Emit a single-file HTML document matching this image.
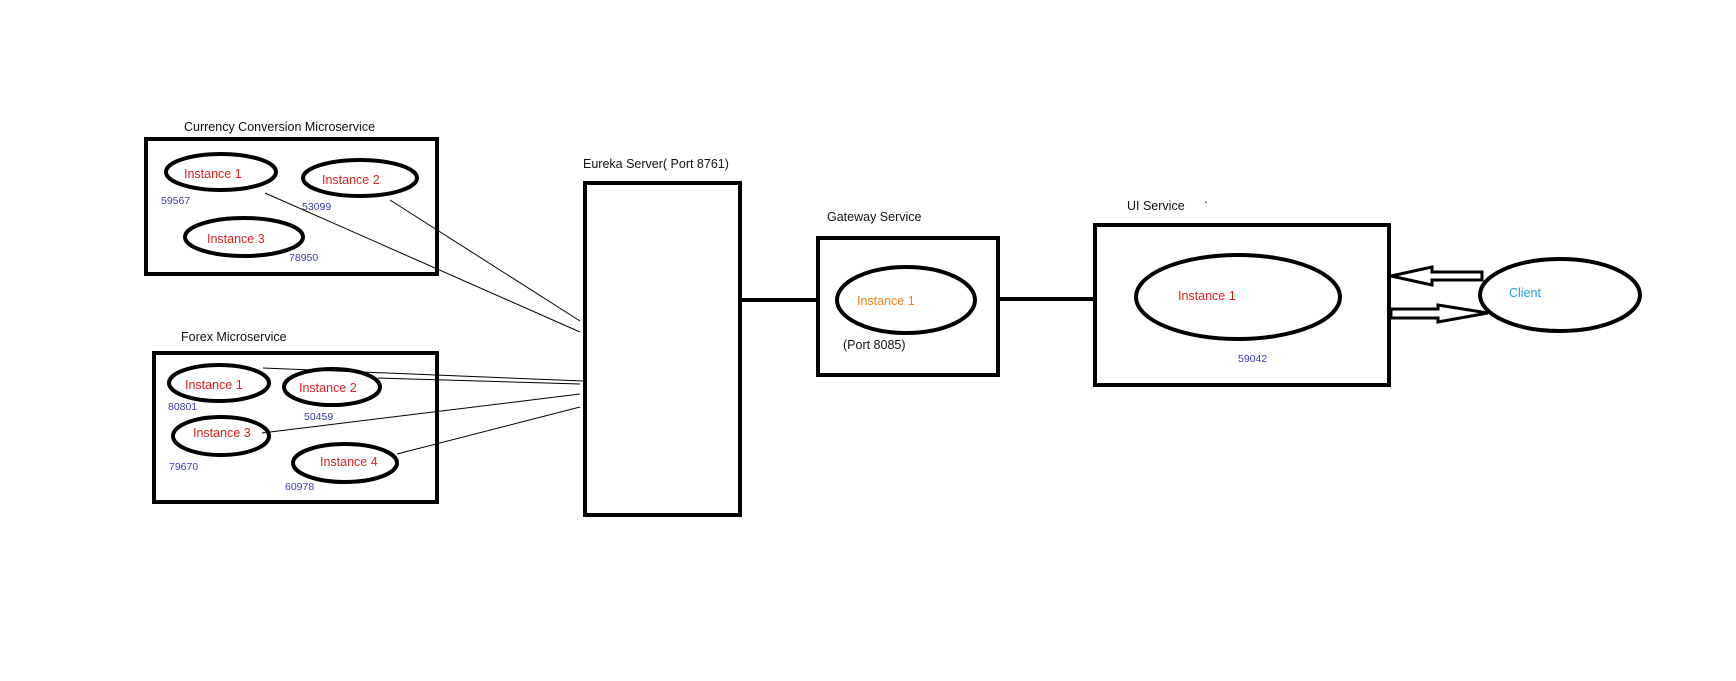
<!DOCTYPE html>
<html><head><meta charset="utf-8"><style>
html,body{margin:0;padding:0;background:#fff;width:1736px;height:681px;overflow:hidden}
text{font-family:"Liberation Sans",sans-serif}
.t{font-size:12.5px;fill:#111}
.r{font-size:12.5px;fill:#e02020}
.n{font-size:10.5px;fill:#3a3aa8}
</style></head><body>
<svg width="1736" height="681" viewBox="0 0 1736 681" xmlns="http://www.w3.org/2000/svg">
<g fill="none" stroke="#000">
<g stroke-width="1">
<line x1="265" y1="193" x2="580" y2="332"/>
<line x1="390" y1="200" x2="580" y2="321"/>
<line x1="263" y1="368" x2="583" y2="381"/>
<line x1="378" y1="378" x2="580" y2="384"/>
<line x1="262" y1="433" x2="580" y2="394"/>
<line x1="397" y1="454" x2="580" y2="407"/>
</g>
<g stroke-width="4">
<rect x="146" y="139" width="291" height="135"/>
<rect x="154" y="353" width="283" height="149"/>
<rect x="585" y="183" width="155" height="332"/>
<rect x="818" y="238" width="180" height="137"/>
<rect x="1095" y="225" width="294" height="160"/>
<ellipse cx="221" cy="172" rx="55" ry="18"/>
<ellipse cx="360" cy="178" rx="57" ry="18"/>
<ellipse cx="244" cy="237" rx="59" ry="19"/>
<ellipse cx="219" cy="383" rx="50" ry="18"/>
<ellipse cx="332" cy="387" rx="48" ry="18"/>
<ellipse cx="221" cy="436" rx="48" ry="19"/>
<ellipse cx="345" cy="463" rx="52" ry="19"/>
<ellipse cx="906" cy="300" rx="69" ry="33"/>
<ellipse cx="1238" cy="297" rx="102" ry="42"/>
<ellipse cx="1560" cy="295" rx="80" ry="36"/>
<line x1="740" y1="300" x2="818" y2="300"/>
<line x1="998" y1="299" x2="1095" y2="299"/>
</g>
<g stroke-width="3" stroke-linejoin="miter">
<polygon points="1482,272 1432,272 1432,267 1391,276 1432,285 1432,280 1482,280"/>
<polygon points="1391,309 1438,309 1438,305 1488,313 1438,322 1438,318 1391,318"/>
</g>
</g>
<text class="t" x="184" y="131">Currency Conversion Microservice</text>
<text class="r" x="184" y="178">Instance 1</text>
<text class="r" x="322" y="184">Instance 2</text>
<text class="r" x="207" y="243">Instance 3</text>
<text class="n" x="161" y="204">59567</text>
<text class="n" x="302" y="210">53099</text>
<text class="n" x="289" y="261">78950</text>
<text class="t" x="181" y="341">Forex Microservice</text>
<text class="r" x="185" y="389">Instance 1</text>
<text class="r" x="299" y="392">Instance 2</text>
<text class="r" x="193" y="437">Instance 3</text>
<text class="r" x="320" y="466">Instance 4</text>
<text class="n" x="168" y="410">80801</text>
<text class="n" x="304" y="420">50459</text>
<text class="n" x="169" y="470">79670</text>
<text class="n" x="285" y="490">60978</text>
<text class="t" x="583" y="168">Eureka Server( Port 8761)</text>
<text class="t" x="827" y="221">Gateway Service</text>
<text x="857" y="305" style="font-size:12.5px;fill:#f08020">Instance 1</text>
<text class="t" x="843" y="349">(Port 8085)</text>
<text class="t" x="1127" y="210">UI Service</text>
<text class="t" x="1204" y="206">·</text>
<text class="r" x="1178" y="300">Instance 1</text>
<text class="n" x="1238" y="362">59042</text>
<text x="1509" y="297" style="font-size:12.5px;fill:#20a0e0">Client</text>
</svg>
</body></html>
